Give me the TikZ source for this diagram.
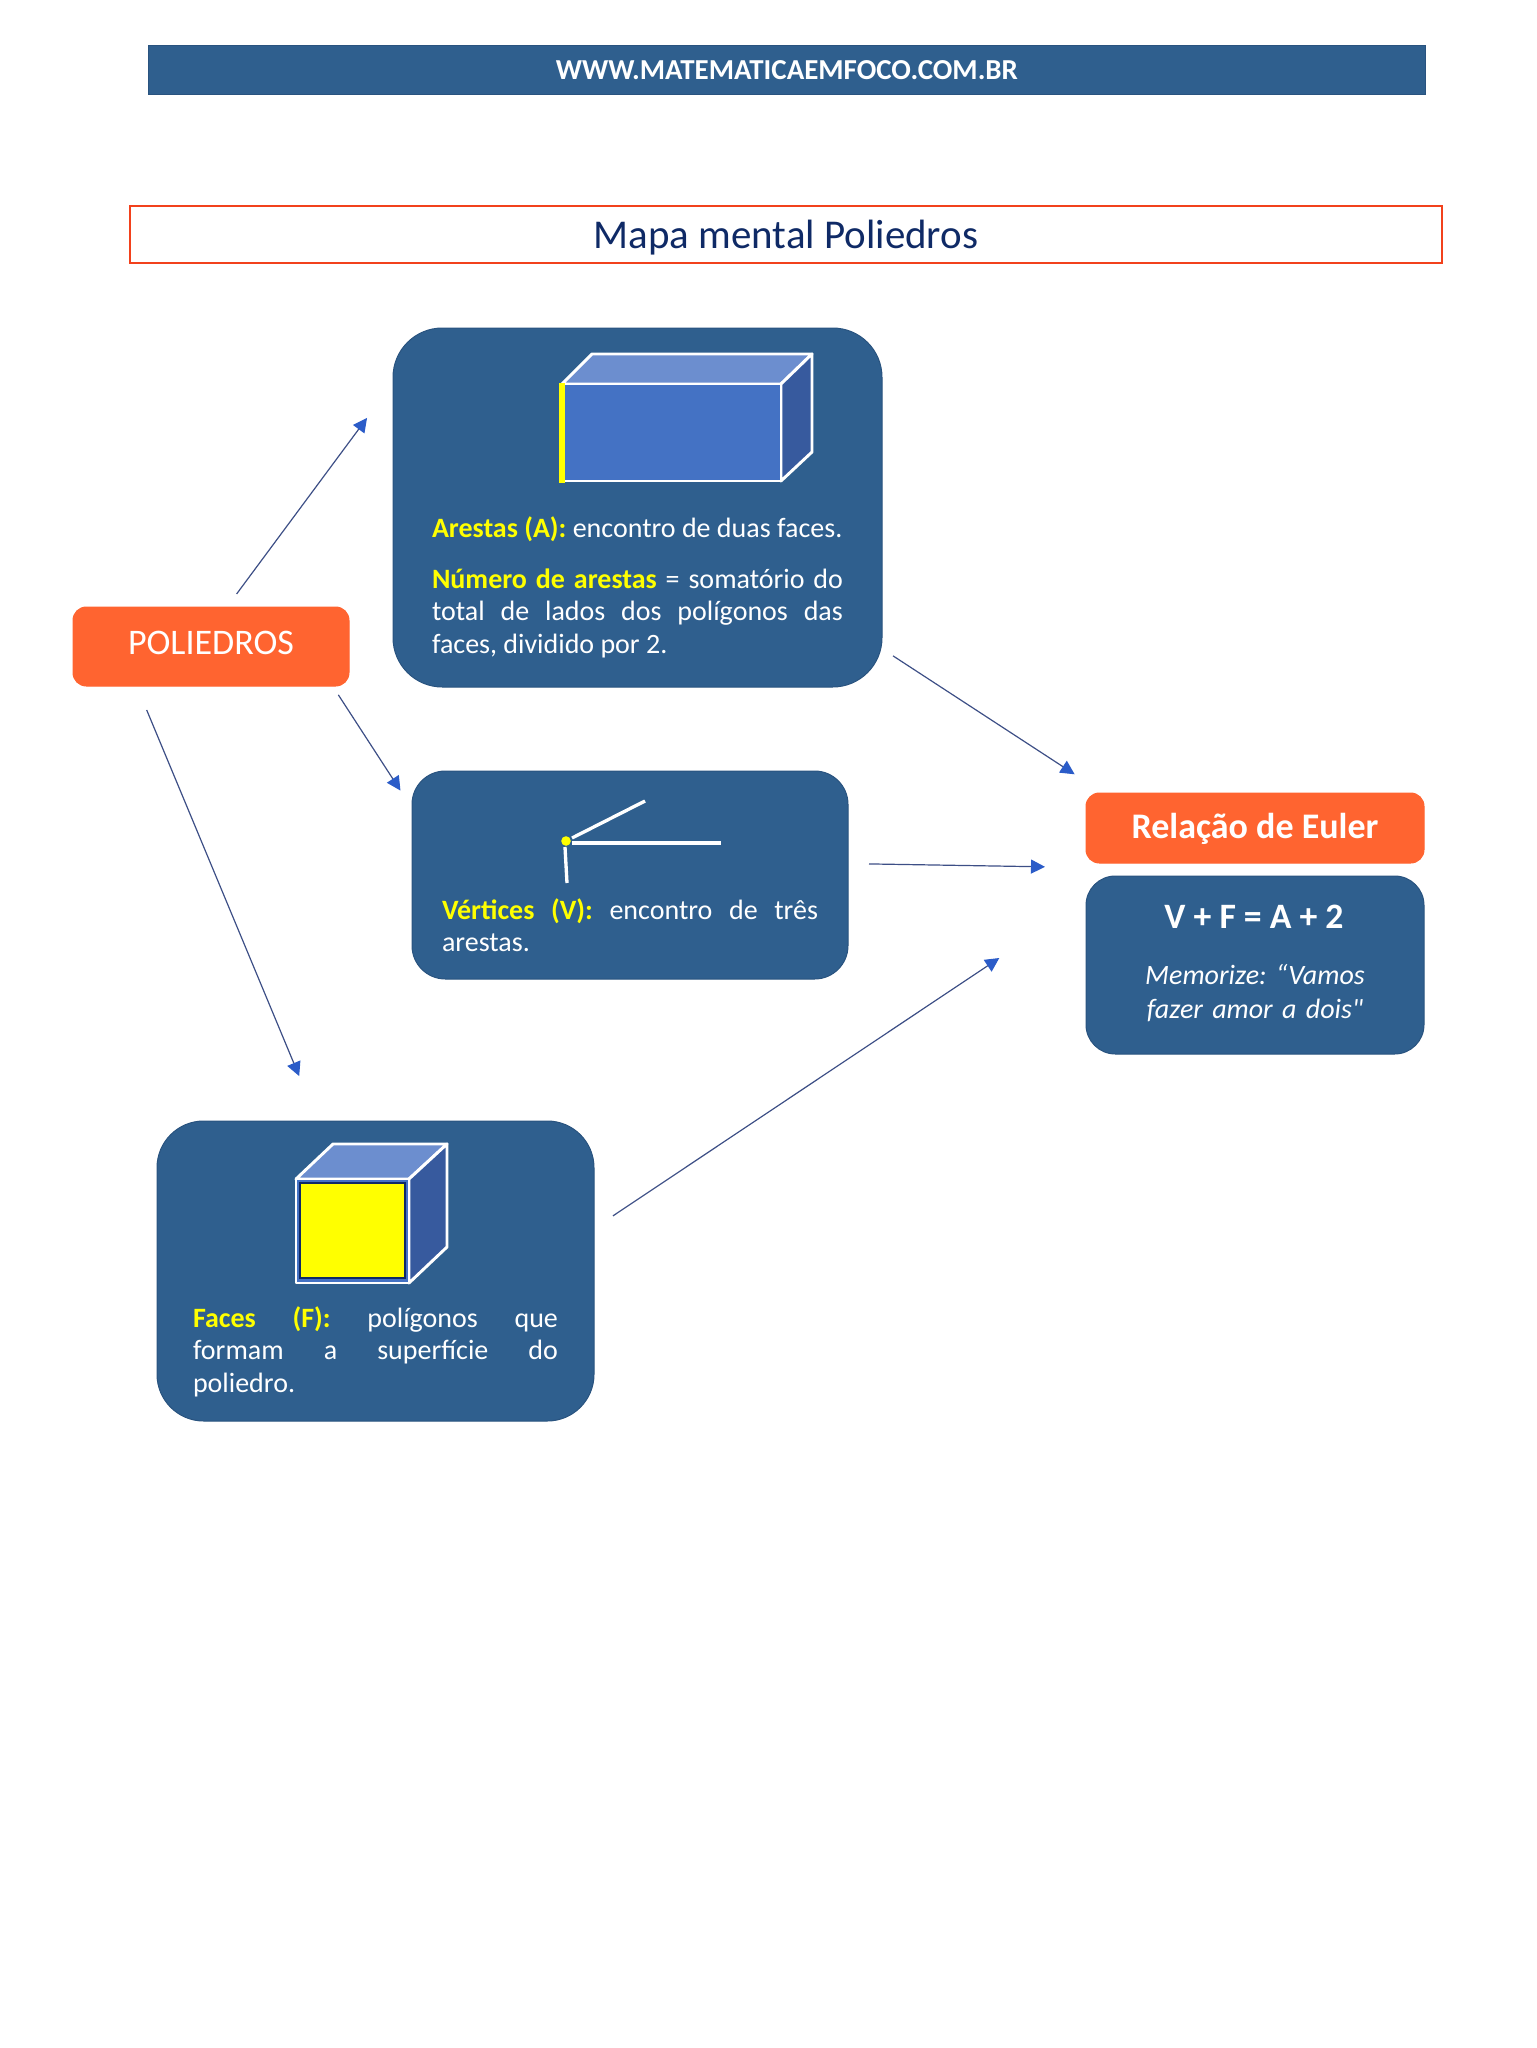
\documentclass[tikz,border=0pt]{standalone}
\usepackage{fontspec}
\setmainfont{Carlito}
\usetikzlibrary{arrows.meta}
\definecolor{cardblue}{HTML}{2F5F8E}
\definecolor{cardedge}{HTML}{29537F}
\definecolor{mapaorange}{HTML}{FF6430}
\definecolor{titlered}{HTML}{F2411C}
\definecolor{titlenavy}{HTML}{0F2A66}
\definecolor{frontblue}{HTML}{4472C4}
\definecolor{topblue}{HTML}{6C8ECF}
\definecolor{sideblue}{HTML}{375A9E}
\definecolor{linkblue}{HTML}{3D4F86}
\definecolor{tipblue}{HTML}{2B5CC8}
\definecolor{hiyellow}{HTML}{FFFF00}
\tikzset{
  card/.style={draw=cardedge,fill=cardblue,line width=0.75pt,outer sep=0pt,inner sep=0pt},
  tag/.style={draw=mapaorange,fill=mapaorange,line width=0.75pt,outer sep=0pt,inner sep=0pt,text=white},
  body/.style={anchor=base west,inner sep=0pt,outer sep=0pt,text=white,align=justify,font=\fontsize{21}{24.4}\selectfont},
  link/.style={draw=linkblue,line width=0.9pt,-{Triangle[length=10.5pt,width=10.5pt,color=tipblue,fill=tipblue]}},
  edge3d/.style={draw=white,line width=2.2pt,line join=round},
}
\newcommand{\hl}[1]{\textcolor{hiyellow}{\textbf{#1}}}
\newcommand{\straightquote}{\XeTeXglyph\XeTeXcharglyph"22\relax}

\begin{document}
\frenchspacing
\begin{tikzpicture}[x=0.75pt,y=0.75pt,yscale=-1,xscale=1]
\useasboundingbox (0,0) rectangle (1536,2048);

%Shape: Header bar
\draw (787,70.5) node (header) [card,minimum width=958pt,minimum height=36.75pt,text height=14pt,text depth=0.8pt,font=\fontsize{21.7}{24}\selectfont\bfseries,text=white] {WWW.MATEMATICAEMFOCO.COM.BR};
%Shape: Title box
\draw (786,234.5) node (title) [draw=titlered,line width=1.6pt,outer sep=0pt,minimum width=983.5pt,minimum height=42.75pt,text height=20.5pt,text depth=0pt,font=\fontsize{30.7}{34}\selectfont,text=titlenavy] {Mapa mental Poliedros};

%Shape: Tags and cards
\draw (211,646.5) node (poly) [tag,rounded corners=10pt,minimum width=207pt,minimum height=59.25pt,text height=17.2pt,text depth=5pt,font=\fontsize{27}{30}\selectfont] {POLIEDROS};
\draw (637.5,507.5) node (cardA) [card,rounded corners=37pt,minimum width=366.75pt,minimum height=269.25pt] {};
\draw (630,875) node (cardV) [card,rounded corners=25pt,minimum width=327pt,minimum height=156pt] {};
\draw (375.5,1271) node (cardF) [card,rounded corners=35pt,minimum width=327.75pt,minimum height=225pt] {};
\draw (1255,828) node (euler) [tag,rounded corners=10pt,minimum width=253.5pt,minimum height=52.5pt,text height=17.5pt,text depth=2.5pt,font=\fontsize{27}{30}\selectfont\bfseries] {Relação de Euler};
\draw (1255,965) node (eulerCard) [card,rounded corners=22pt,minimum width=253.5pt,minimum height=133.5pt] {};

%Shape: Cuboid
\draw [edge3d,fill=topblue] (562,384) -- (592,354) -- (812,354) -- (781,384) -- cycle ;
\draw [edge3d,fill=sideblue] (781,384) -- (812,354) -- (812,452) -- (781,481) -- cycle ;
\draw [edge3d,fill=frontblue] (562,384) -- (781,384) -- (781,481) -- (562,481) -- cycle ;
\draw [draw=hiyellow,line width=4.2pt] (562,383) -- (562,483) ;

%Shape: Corner
\draw [draw=white,line width=2.5pt] (572,838) -- (645,801) ;
\draw [draw=white,line width=2.5pt] (572,843) -- (721,843) ;
\draw [draw=white,line width=2.5pt] (565,847) -- (567,883) ;
\fill [hiyellow] (566,841) circle (3.6pt) ;

%Shape: Cube
\draw [edge3d,fill=topblue] (296,1179) -- (333,1144) -- (447,1144) -- (409,1179) -- cycle ;
\draw [edge3d,fill=sideblue] (409,1179) -- (447,1144) -- (447,1247) -- (409,1283) -- cycle ;
\draw [edge3d,fill=frontblue] (296,1179) -- (409,1179) -- (409,1283) -- (296,1283) -- cycle ;
\draw [draw=titlenavy,fill=hiyellow,line width=1.5pt] (300,1183) -- (405,1183) -- (405,1278) -- (300,1278) -- cycle ;

% Text Node
\draw (432,537) node (textA) [body,text width=308.25pt] {\hl{Arestas (A):} encontro de duas faces.};
% Text Node
\draw (432,588) node (textN) [body,text width=308.25pt] {\hl{Número de arestas} = somatório do\linebreak total de lados dos polígonos das\linebreak faces, dividido por 2.};
% Text Node
\draw (442,919) node (textV) [body,text width=282pt] {\hl{Vértices (V):} encontro de três\linebreak arestas.};
% Text Node
\draw (193,1327) node (textF) [body,text width=273.75pt] {\hl{Faces (F):} polígonos que\linebreak formam a superfície do\linebreak poliedro.};
% Text Node
\draw (1254,928) node (eqn) [anchor=base,inner sep=0pt,text=white,font=\fontsize{26.8}{30}\selectfont\bfseries] {V + F = A + 2};
% Text Node
\draw (1255,984) node (memo) [anchor=base,inner sep=0pt,text=white,align=center,text width=240pt,font=\fontsize{21}{25.5}\selectfont\itshape] {Memorize: “Vamos\\fazer amor a dois\straightquote};

%Straight Lines
\coordinate (eulerGap) at (1086,867.5);
\draw [link,shorten <=12.2pt,shorten >=32.7pt] (poly.68.8) -- (cardA.153.03) ;
\draw [link,shorten <=7.9pt,shorten >=15.9pt] (poly.-18) -- (cardV.163.96) ;
\draw [link,shorten <=19.5pt,shorten >=36.5pt] (poly.208.6) -- (cardF.111.34) ;
\draw [link,shorten <=9.9pt,shorten >=25.7pt] (cardA.-30.1) -- (euler.167.16) ;
\draw [link,shorten <=15.75pt,shorten >=30.75pt] (cardV.3.1) -- (eulerGap) ;
\draw [link,shorten <=17.1pt,shorten >=78.2pt] (cardF.11.85) -- (eulerCard.159.4) ;

\end{tikzpicture}
\end{document}
